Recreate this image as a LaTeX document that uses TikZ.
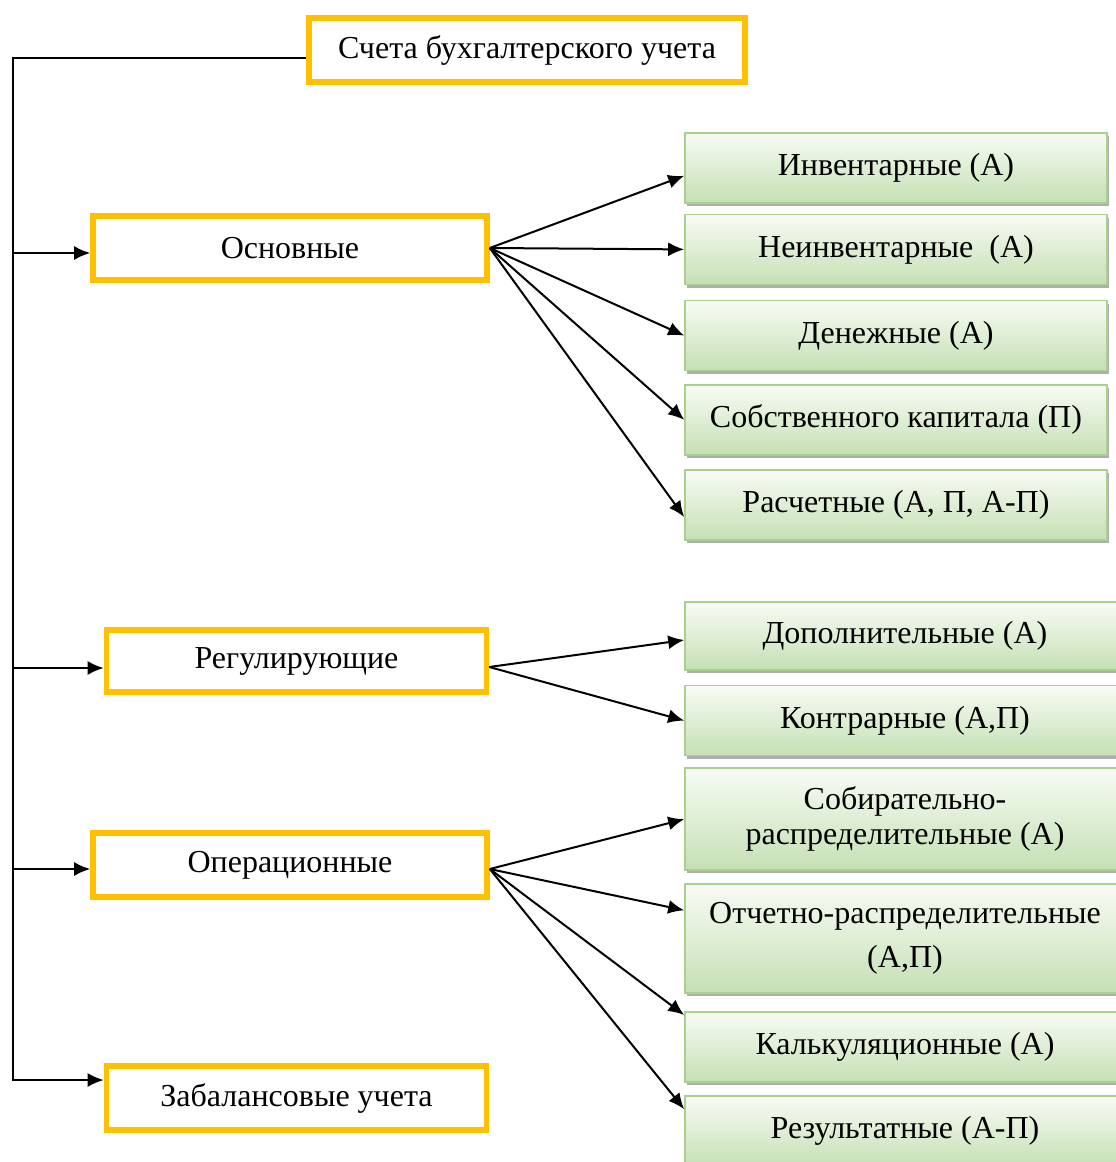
\documentclass[tikz,border=0pt]{standalone}
\usepackage{fontspec}
\setmainfont{Liberation Serif}
\usetikzlibrary{arrows.meta,positioning,shadows}
\definecolor{frameorange}{HTML}{FFC000}
\definecolor{leafline}{HTML}{A9D18E}
\definecolor{leaftop}{HTML}{F8FBF5}
\definecolor{leafbottom}{HTML}{C5E0B4}
\tikzset{
  groupbox/.style={draw=frameorange, line width=2.8pt, fill=white, align=center, inner sep=2pt, minimum height=32pt, font=\fontsize{16}{20}\selectfont},
  leafbox/.style={draw=leafline, line width=0.8pt, top color=leaftop, bottom color=leafbottom, drop shadow={shadow xshift=1.2pt, shadow yshift=-1.6pt, fill=black!45, opacity=.7}, align=center, inner sep=2pt, minimum width=211pt, minimum height=35pt, font=\fontsize{16}{20}\selectfont},
  wideleaf/.style={leafbox, minimum width=220pt},
  arrow/.style={-{Latex[length=8pt,width=7pt]}, line width=1pt},
  link/.style={line width=1pt}
}

\begin{document}
\begin{tikzpicture}[x=0.5pt, y=-0.5pt, node distance=7pt]
\useasboundingbox (0,0) rectangle (1115,1162);
% top and groups
\node[groupbox, minimum width=218pt] (accounts) at (527,50) {Счета бухгалтерского учета};
\node[groupbox, minimum width=197pt] (basic) at (290,248) {Основные};
\node[groupbox, minimum width=190pt, minimum height=31pt] (regul) at (296.5,661) {Регулирующие};
\node[groupbox, minimum width=197pt] (oper) at (290,865) {Операционные};
\node[groupbox, minimum width=190pt] (offbal) at (296.5,1098) {Забалансовые учета};

% basic accounts
\node[leafbox, anchor=north] (inv) at (896,132) {Инвентарные (А)};
\node[leafbox, below=5pt of inv] (noninv) {Неинвентарные~ (А)};
\node[leafbox, below=7.3pt of noninv] (cash) {Денежные (А)};
\node[leafbox, below=6.3pt of cash] (equity) {Собственного капитала (П)};
\node[leafbox, below=6.8pt of equity] (settle) {Расчетные (А, П, А-П)};

% regulating accounts
\node[wideleaf, minimum height=34pt] (extra) at (905,636) {Дополнительные (А)};
\node[wideleaf, below=7pt of extra] (contra) {Контрарные (А,П)};

% operating accounts
\node[wideleaf, minimum height=51pt, below=5.5pt of contra, font=\fontsize{16}{17.5}\selectfont] (collect) {Собирательно-\\распределительные (А)};
\node[wideleaf, minimum height=54.5pt, below=6pt of collect, font=\fontsize{16}{22}\selectfont] (report) {Отчетно-распределительные\\(А,П)};
\node[wideleaf, below=8.8pt of report] (costing) {Калькуляционные (А)};
\node[wideleaf, below=6.3pt of costing] (result) {Результатные (А-П)};

% spine
\coordinate (corner) at (13,58);
\draw[arrow] ([yshift=-4pt]accounts.west) -- (corner) |- ([yshift=9pt]offbal.west);
\draw[arrow] (corner |- basic.west) ++(0,5) -- ([yshift=-2.5pt]basic.west);
\draw[arrow] (corner |- regul.west) ++(0,7) -- ([yshift=-3.5pt]regul.west);
\draw[arrow] (corner |- oper.west) ++(0,4) -- ([yshift=-2pt]oper.west);

\draw[arrow] (basic.east) -- ([yshift=-4pt]inv.west);
\draw[arrow] (basic.east) -- (noninv.west);
\draw[arrow] (basic.east) -- (cash.west);
\draw[arrow] (basic.east) -- (equity.west);
\draw[arrow] (basic.east) -- ([yshift=-6pt]settle.west);

\draw[arrow] ([yshift=-3pt]regul.east) -- ([yshift=-2pt]extra.west);
\draw[arrow] ([yshift=-3pt]regul.east) -- (contra.west);

\draw[arrow] ([yshift=-2pt]oper.east) -- (collect.west);
\draw[arrow] ([yshift=-2pt]oper.east) -- ([yshift=14pt]report.west);
\draw[arrow] ([yshift=-2pt]oper.east) -- ([yshift=16pt]costing.west);
\draw[arrow] ([yshift=-2pt]oper.east) -- ([yshift=11pt]result.west);
\end{tikzpicture}
\end{document}
